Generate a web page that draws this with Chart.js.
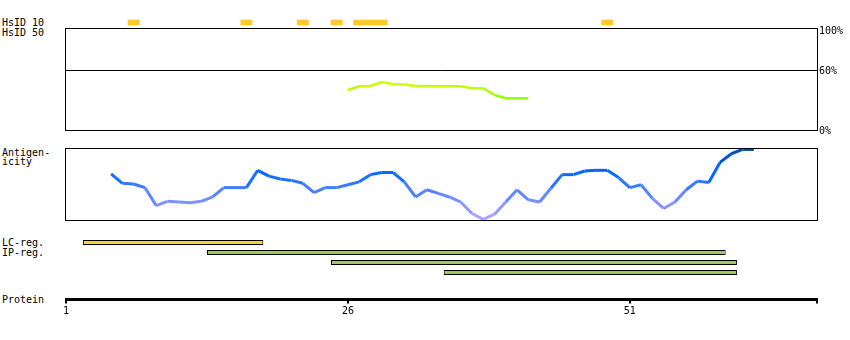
<!DOCTYPE html>
<html>
<head>
<meta charset="utf-8">
<title>Protein features</title>
<script src="https://cdn.jsdelivr.net/npm/chart.js@4.4.1/dist/chart.umd.min.js"></script>
<style>
  body { margin: 0; background: #fff; }
  #wrap { position: relative; width: 850px; height: 340px; overflow: hidden; }
  #wrap canvas { position: absolute; left: 0; }
  .lbl { position: absolute; left: 2px; font: 10px/10px 'DejaVu Sans Mono', monospace; color: #000; white-space: pre; }
</style>
</head>
<body>
<div id="wrap">
  <div class="lbl" style="top:18px">HsID 10</div>
  <div class="lbl" style="top:28px">HsID 50</div>
  <div class="lbl" style="top:148px">Antigen-</div>
  <div class="lbl" style="top:157px">icity</div>
  <div class="lbl" style="top:238px">LC-reg.</div>
  <div class="lbl" style="top:248px">IP-reg.</div>
  <div class="lbl" style="top:295px">Protein</div>
  <canvas id="hsid10" width="850" height="15" style="top:15px"></canvas>
  <canvas id="hsid50" width="850" height="122" style="top:18px"></canvas>
  <canvas id="antigen" width="850" height="90" style="top:140px"></canvas>
  <canvas id="regions" width="850" height="110" style="top:230px"></canvas>
</div>
<script>
const xMin = 1, xMax = 67.6;

// residues with an HsID 10 hit
const hsid10Hits = [7, 17, 22, 25, 27, 28, 29, 49];

// HsID 50 identity (%)
const hsid50Pos = [26, 27, 28, 29, 30, 31, 32, 33, 34, 35, 36, 37, 38, 39, 40, 41, 42];
const hsid50Val = [40, 43.7, 44, 48, 45.8, 45.5, 44, 43.7, 43.7, 43.7, 43.7, 41.7, 41.7, 35, 31.7, 31.7, 31.7];
const pctTicks = [0, 60, 100];

// antigenicity score (0..1)
const antigenPos = [5, 6, 7, 8, 9, 10, 11, 12, 13, 14, 15, 16, 17, 18, 19, 20, 21, 22, 23, 24,
  25, 26, 27, 28, 29, 30, 31, 32, 33, 34, 35, 36, 37, 38, 39, 40, 41, 42, 43, 44,
  45, 46, 47, 48, 49, 50, 51, 52, 53, 54, 55, 56, 57, 58, 59, 60, 61, 62];
const antigenVal = [0.64, 0.51, 0.50, 0.45, 0.20, 0.26, 0.25, 0.24, 0.26, 0.32, 0.45, 0.45, 0.45, 0.69, 0.61, 0.57, 0.55, 0.51, 0.38, 0.45,
  0.45, 0.49, 0.53, 0.63, 0.66, 0.66, 0.53, 0.32, 0.42, 0.37, 0.32, 0.25, 0.09, 0.01, 0.08, 0.25, 0.42, 0.28, 0.25, 0.44,
  0.63, 0.63, 0.68, 0.69, 0.69, 0.59, 0.45, 0.49, 0.30, 0.16, 0.25, 0.42, 0.54, 0.52, 0.80, 0.92, 0.98, 0.98];

// low-complexity / interaction regions
const regionLabel = ['LC-reg.', 'IP-reg.', 'IP-reg.', 'IP-reg.'];
const regionStart = [3, 14, 25, 35];
const regionEnd = [18, 59, 60, 60];

// protein ruler
const axisTicks = [1, 26, 51];

Chart.defaults.font.family = "'DejaVu Sans Mono', monospace";
Chart.defaults.font.size = 10;
Chart.defaults.color = '#000';
Chart.defaults.animation = false;
Chart.defaults.responsive = false;
Chart.defaults.plugins.legend.display = false;
Chart.defaults.plugins.tooltip.enabled = false;

const frame = {
  id: 'frame',
  afterDraw(chart) {
    const a = chart.chartArea, c = chart.ctx;
    const l = Math.round(a.left), t = Math.round(a.top), r = Math.round(a.right), b = Math.round(a.bottom);
    c.save();
    c.strokeStyle = '#000';
    c.lineWidth = 1;
    c.strokeRect(l - 0.5, t + 0.5, r - l + 1, b - t);
    c.restore();
  }
};

function hiddenX() {
  return { type: 'linear', min: xMin, max: xMax, offset: false, display: false };
}

function greenFor(v) {
  const r = Math.round(Math.max(145, Math.min(215, 145 + (v - 31) * 4)));
  return `rgb(${r},255,0)`;
}

const blueStops = [[0, 185, 165, 255], [0.25, 125, 145, 255], [0.45, 65, 125, 255], [0.65, 5, 105, 255], [0.8, 0, 90, 215], [1, 0, 78, 165]];
function blueFor(v) {
  for (let i = 1; i < blueStops.length; i++) {
    const a = blueStops[i - 1], b = blueStops[i];
    if (v <= b[0] || i === blueStops.length - 1) {
      const t = Math.max(0, Math.min(1, (v - a[0]) / (b[0] - a[0])));
      const c = [1, 2, 3].map(k => Math.round(a[k] + (b[k] - a[k]) * t));
      return `rgb(${c[0]},${c[1]},${c[2]})`;
    }
  }
}

new Chart(document.getElementById('hsid10'), {
  type: 'bar',
  data: {
    datasets: [{
      data: hsid10Hits.map(r => ({ x: [r - 0.5, r + 0.5], y: 0 })),
      backgroundColor: '#ffc926',
      barThickness: 5
    }]
  },
  options: {
    indexAxis: 'y',
    layout: { padding: { left: 66, right: 33, top: 0, bottom: 0 } },
    scales: {
      x: hiddenX(),
      y: { type: 'linear', min: -1, max: 1, offset: false, display: false }
    }
  }
});

new Chart(document.getElementById('hsid50'), {
  type: 'line',
  data: {
    datasets: [{
      data: hsid50Pos.map((x, i) => ({ x: x, y: hsid50Val[i] })),
      borderColor: '#b0ff00',
      borderWidth: 2.5,
      pointRadius: 0,
      tension: 0,
      segment: { borderColor: c => greenFor((c.p0.parsed.y + c.p1.parsed.y) / 2) }
    }]
  },
  options: {
    layout: { padding: { left: 66, right: 0, top: 10, bottom: 10 } },
    scales: {
      x: hiddenX(),
      y: {
        position: 'right', min: 0, max: 102,
        afterFit: s => { s.width = 33; },
        afterBuildTicks: s => { s.ticks = pctTicks.map(v => ({ value: v })); },
        grid: { drawTicks: false, color: c => (c.tick && c.tick.value === 60) ? '#000' : 'rgba(0,0,0,0)' },
        border: { display: false },
        ticks: { padding: 2, labelOffset: 1, callback: v => v + '%' }
      }
    }
  },
  plugins: [frame]
});

new Chart(document.getElementById('antigen'), {
  type: 'line',
  data: {
    datasets: [{
      data: antigenPos.map((x, i) => ({ x: x, y: antigenVal[i] })),
      borderColor: '#0066ff',
      borderWidth: 3,
      pointRadius: 0,
      tension: 0,
      segment: { borderColor: c => blueFor((c.p0.parsed.y + c.p1.parsed.y) / 2) }
    }]
  },
  options: {
    layout: { padding: { left: 66, right: 33, top: 8, bottom: 10 } },
    scales: {
      x: hiddenX(),
      y: { type: 'linear', min: 0, max: 1, display: false }
    }
  },
  plugins: [frame]
});

new Chart(document.getElementById('regions'), {
  type: 'bar',
  data: {
    datasets: [{
      data: regionStart.map((s, i) => ({ x: [s - 0.5, regionEnd[i] + 0.5], y: i })),
      backgroundColor: regionLabel.map(l => l === 'LC-reg.' ? '#f2d43c' : '#a3c85a'),
      borderColor: '#000',
      borderWidth: 1,
      borderSkipped: false,
      inflateAmount: 0,
      barThickness: 5
    }]
  },
  options: {
    indexAxis: 'y',
    layout: { padding: { left: 66, right: 33, top: 7.5, bottom: 0 } },
    scales: {
      x: {
        type: 'linear', min: xMin, max: xMax, offset: false, position: 'bottom',
        afterFit: s => { s.height = 40.5; },
        afterBuildTicks: s => { s.ticks = axisTicks.concat([xMax]).map(v => ({ value: v })); },
        grid: { drawOnChartArea: false, tickLength: 4, lineWidth: 2, color: '#000' },
        border: { width: 3, color: '#000' },
        ticks: { padding: 2, maxRotation: 0, autoSkip: false, callback: v => axisTicks.includes(v) ? String(v) : '' }
      },
      y: { type: 'linear', min: -0.5, max: 5.7, offset: false, reverse: true, display: false }
    }
  }
});
</script>
</body>
</html>
